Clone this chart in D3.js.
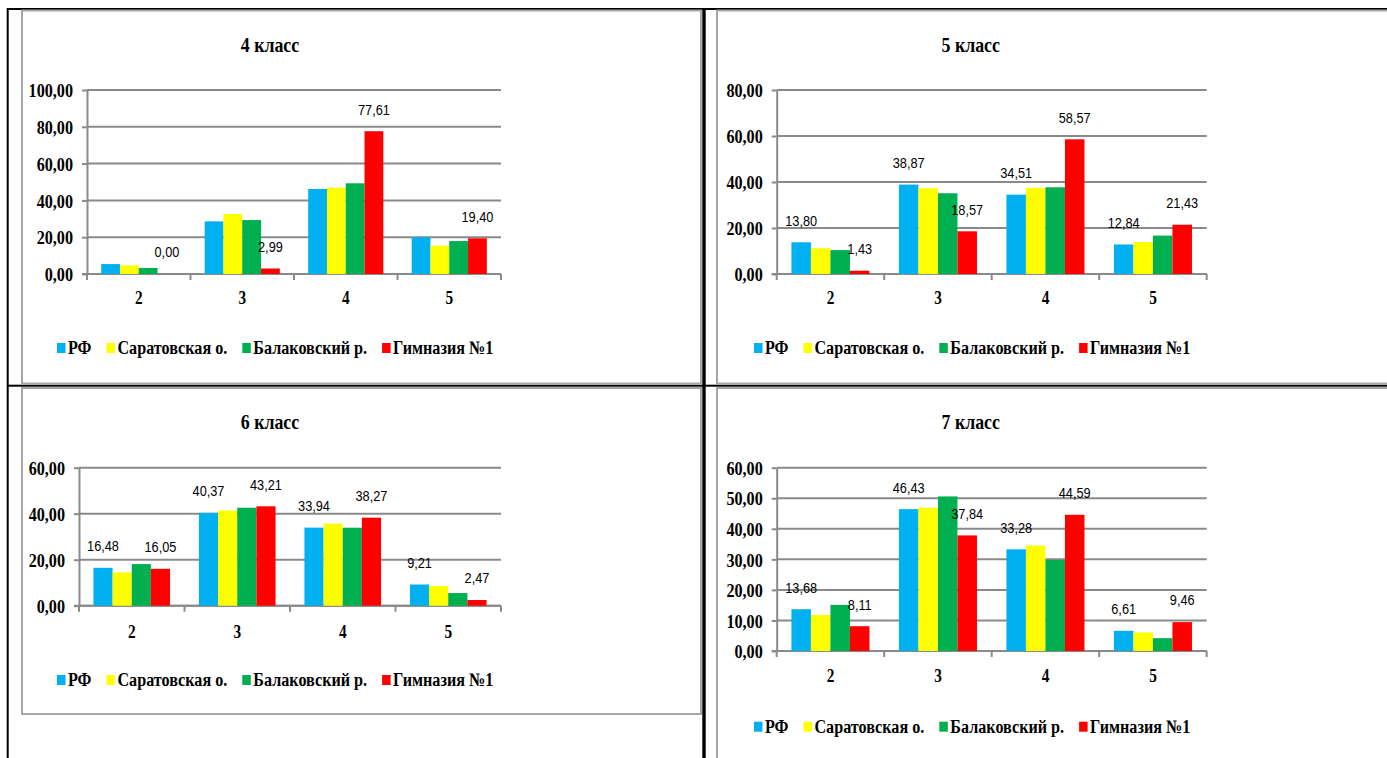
<!DOCTYPE html>
<html><head><meta charset="utf-8">
<script src="https://cdn.jsdelivr.net/npm/d3@7"></script>
<style>body{margin:0;background:#fff;} svg{display:block;}</style>
</head><body>
<svg id="c" width="1387" height="758"></svg>
<script>
// ---------- DATA ----------
const categories = ["2", "3", "4", "5"];
const seriesNames = ["РФ", "Саратовская о.", "Балаковский р.", "Гимназия №1"];
const seriesColors = ["#00B0F0", "#FFFF00", "#00B050", "#FF0000"];

// 4 класс
const g4RF  = [5.4, 28.6, 46.2, 19.9];
const g4Sar = [4.7, 32.6, 46.9, 15.4];
const g4Bal = [3.3, 29.3, 49.3, 17.9];
const g4Gym = [0.00, 2.99, 77.61, 19.40];
const g4Ticks = [0, 20, 40, 60, 80, 100];
const g4Labeled = [3];

// 5 класс
const g5RF  = [13.80, 38.87, 34.51, 12.84];
const g5Sar = [11.2, 37.3, 37.5, 13.9];
const g5Bal = [10.4, 35.1, 37.7, 16.7];
const g5Gym = [1.43, 18.57, 58.57, 21.43];
const g5Ticks = [0, 20, 40, 60, 80];
const g5Labeled = [0, 3];

// 6 класс
const g6RF  = [16.48, 40.37, 33.94, 9.21];
const g6Sar = [14.5, 41.4, 35.7, 8.6];
const g6Bal = [18.1, 42.6, 33.9, 5.5];
const g6Gym = [16.05, 43.21, 38.27, 2.47];
const g6Ticks = [0, 20, 40, 60];
const g6Labeled = [0, 3];

// 7 класс
const g7RF  = [13.68, 46.43, 33.28, 6.61];
const g7Sar = [11.8, 46.9, 34.5, 6.1];
const g7Bal = [15.1, 50.6, 29.8, 4.2];
const g7Gym = [8.11, 37.84, 44.59, 9.46];
const g7Ticks = [0, 10, 20, 30, 40, 50, 60];
const g7Labeled = [0, 3];

// ---------- LAYOUT ----------
const S = 0.85; // horizontal text compression seen in the picture
const svg = d3.select("#c");
const fmt = d3.formatLocale({decimal: ",", thousands: " ", grouping: [3], currency: ["", ""]}).format(".2f");
const SERIF = "'Liberation Serif','Times New Roman',serif";
const SANS = "'Liberation Sans',Arial,sans-serif";

// page lines (table borders)
function blackRect(x, y, w, h) {
  svg.append("rect").attr("x", x).attr("y", y).attr("width", w).attr("height", h).attr("fill", "#000");
}
blackRect(7, 8, 1380, 2);
blackRect(6.7, 8, 2, 750);
blackRect(702.3, 8, 3.4, 750);
blackRect(7, 384.7, 1380, 2);

const panels = [
  {title: "4 класс", series: [g4RF, g4Sar, g4Bal, g4Gym], ticks: g4Ticks, labeled: g4Labeled,
   frame: [22, 10.5, 701, 383.5], x0: 87, x1: 501, yTop: 90, yZero: 274,
   titleX: 270, titleY: 45, catY: 298, legendX: 57, legendY: 348},
  {title: "5 класс", series: [g5RF, g5Sar, g5Bal, g5Gym], ticks: g5Ticks, labeled: g5Labeled,
   frame: [717, 10.5, 1395, 383.5], x0: 776.7, x1: 1206.7, yTop: 90, yZero: 274,
   titleX: 970.7, titleY: 45, catY: 298, legendX: 754, legendY: 348},
  {title: "6 класс", series: [g6RF, g6Sar, g6Bal, g6Gym], ticks: g6Ticks, labeled: g6Labeled,
   frame: [22, 388, 701, 714], x0: 79, x1: 501, yTop: 467.7, yZero: 605.7,
   titleX: 270, titleY: 421.7, catY: 631.7, legendX: 57, legendY: 680},
  {title: "7 класс", series: [g7RF, g7Sar, g7Bal, g7Gym], ticks: g7Ticks, labeled: g7Labeled,
   frame: [717, 388, 1395, 765], x0: 776.7, x1: 1206.7, yTop: 467.7, yZero: 651,
   titleX: 970.7, titleY: 421.7, catY: 676, legendX: 754, legendY: 726.7}
];

const GRID = "#8a8a8a";

function drawPanel(p) {
  const g = svg.append("g");
  g.append("rect")
    .attr("x", p.frame[0]).attr("y", p.frame[1])
    .attr("width", p.frame[2] - p.frame[0]).attr("height", p.frame[3] - p.frame[1])
    .attr("fill", "none").attr("stroke", "#a6a6a6").attr("stroke-width", 2);

  const y = d3.scaleLinear().domain([0, d3.max(p.ticks)]).range([p.yZero, p.yTop]);
  const x = d3.scaleBand().domain(categories).range([p.x0, p.x1]);
  const pad = x.bandwidth() * 0.137;
  const xs = d3.scaleBand().domain(d3.range(seriesNames.length)).range([pad, x.bandwidth() - pad]);

  // gridlines
  g.append("g").selectAll("line").data(p.ticks).join("line")
    .attr("x1", p.x0).attr("x2", p.x1)
    .attr("y1", d => y(d)).attr("y2", d => y(d))
    .attr("stroke", GRID).attr("stroke-width", 2);

  // y axis
  const ya = g.append("g").attr("transform", `translate(${p.x0},0)`)
    .call(d3.axisLeft(y).tickValues(p.ticks).tickSize(5).tickSizeOuter(0).tickFormat(fmt));
  ya.select(".domain").attr("stroke", GRID).attr("stroke-width", 2);
  ya.selectAll(".tick line").attr("stroke", GRID).attr("stroke-width", 2);
  ya.selectAll(".tick text")
    .attr("x", -14 / S).attr("dy", "0.35em")
    .attr("transform", `scale(${S},1)`)
    .attr("font-family", SERIF).attr("font-weight", "bold").attr("font-size", 19).attr("fill", "#000");

  // x axis baseline + boundary ticks
  const xa = g.append("g").attr("transform", `translate(0,${p.yZero})`)
    .call(d3.axisBottom(x).tickSize(0).tickPadding(0));
  xa.select(".domain").remove();
  xa.selectAll(".tick text")
    .attr("y", 0).attr("dy", null)
    .attr("transform", `translate(0,${p.catY - p.yZero}) scale(${S},1)`)
    .attr("dominant-baseline", "central")
    .attr("font-family", SERIF).attr("font-weight", "bold").attr("font-size", 18).attr("fill", "#000");
  g.append("line").attr("x1", p.x0 - 5).attr("x2", p.x1)
    .attr("y1", p.yZero).attr("y2", p.yZero).attr("stroke", GRID).attr("stroke-width", 2);
  const bounds = categories.map(c => x(c)).concat([p.x1]);
  g.append("g").selectAll("line").data(bounds).join("line")
    .attr("x1", d => d).attr("x2", d => d)
    .attr("y1", p.yZero).attr("y2", p.yZero + 6)
    .attr("stroke", GRID).attr("stroke-width", 2);

  // bars
  p.series.forEach((vals, si) => {
    g.append("g").selectAll("rect").data(vals).join("rect")
      .attr("x", (d, i) => x(categories[i]) + xs(si))
      .attr("width", xs.bandwidth())
      .attr("y", d => y(d))
      .attr("height", d => p.yZero - y(d))
      .attr("fill", seriesColors[si]);
  });

  // data labels
  p.labeled.forEach(si => {
    g.append("g").selectAll("text").data(p.series[si]).join("text")
      .attr("transform", (d, i) => `translate(${x(categories[i]) + xs(si) + xs.bandwidth() / 2},${y(d) - 22}) scale(${S},1)`)
      .attr("text-anchor", "middle").attr("dominant-baseline", "central")
      .attr("font-family", SANS).attr("font-size", 15).attr("fill", "#000")
      .text(d => fmt(d));
  });

  // title
  g.append("text")
    .attr("transform", `translate(${p.titleX},${p.titleY}) scale(${S},1)`)
    .attr("text-anchor", "middle").attr("dominant-baseline", "central")
    .attr("font-family", SERIF).attr("font-weight", "bold").attr("font-size", 21)
    .text(p.title);

  // legend
  let cx = p.legendX;
  seriesNames.forEach((name, si) => {
    g.append("rect").attr("x", cx).attr("y", p.legendY - 5).attr("width", 8.5).attr("height", 10)
      .attr("fill", seriesColors[si]);
    const t = g.append("text")
      .attr("transform", `translate(${cx + 11},${p.legendY}) scale(${S},1)`)
      .attr("dominant-baseline", "central")
      .attr("font-family", SERIF).attr("font-weight", "bold").attr("font-size", 19)
      .text(name);
    const w = t.node().getComputedTextLength() * S;
    cx += 11 + w + 15;
  });
}

panels.forEach(drawPanel);
</script>
</body></html>
